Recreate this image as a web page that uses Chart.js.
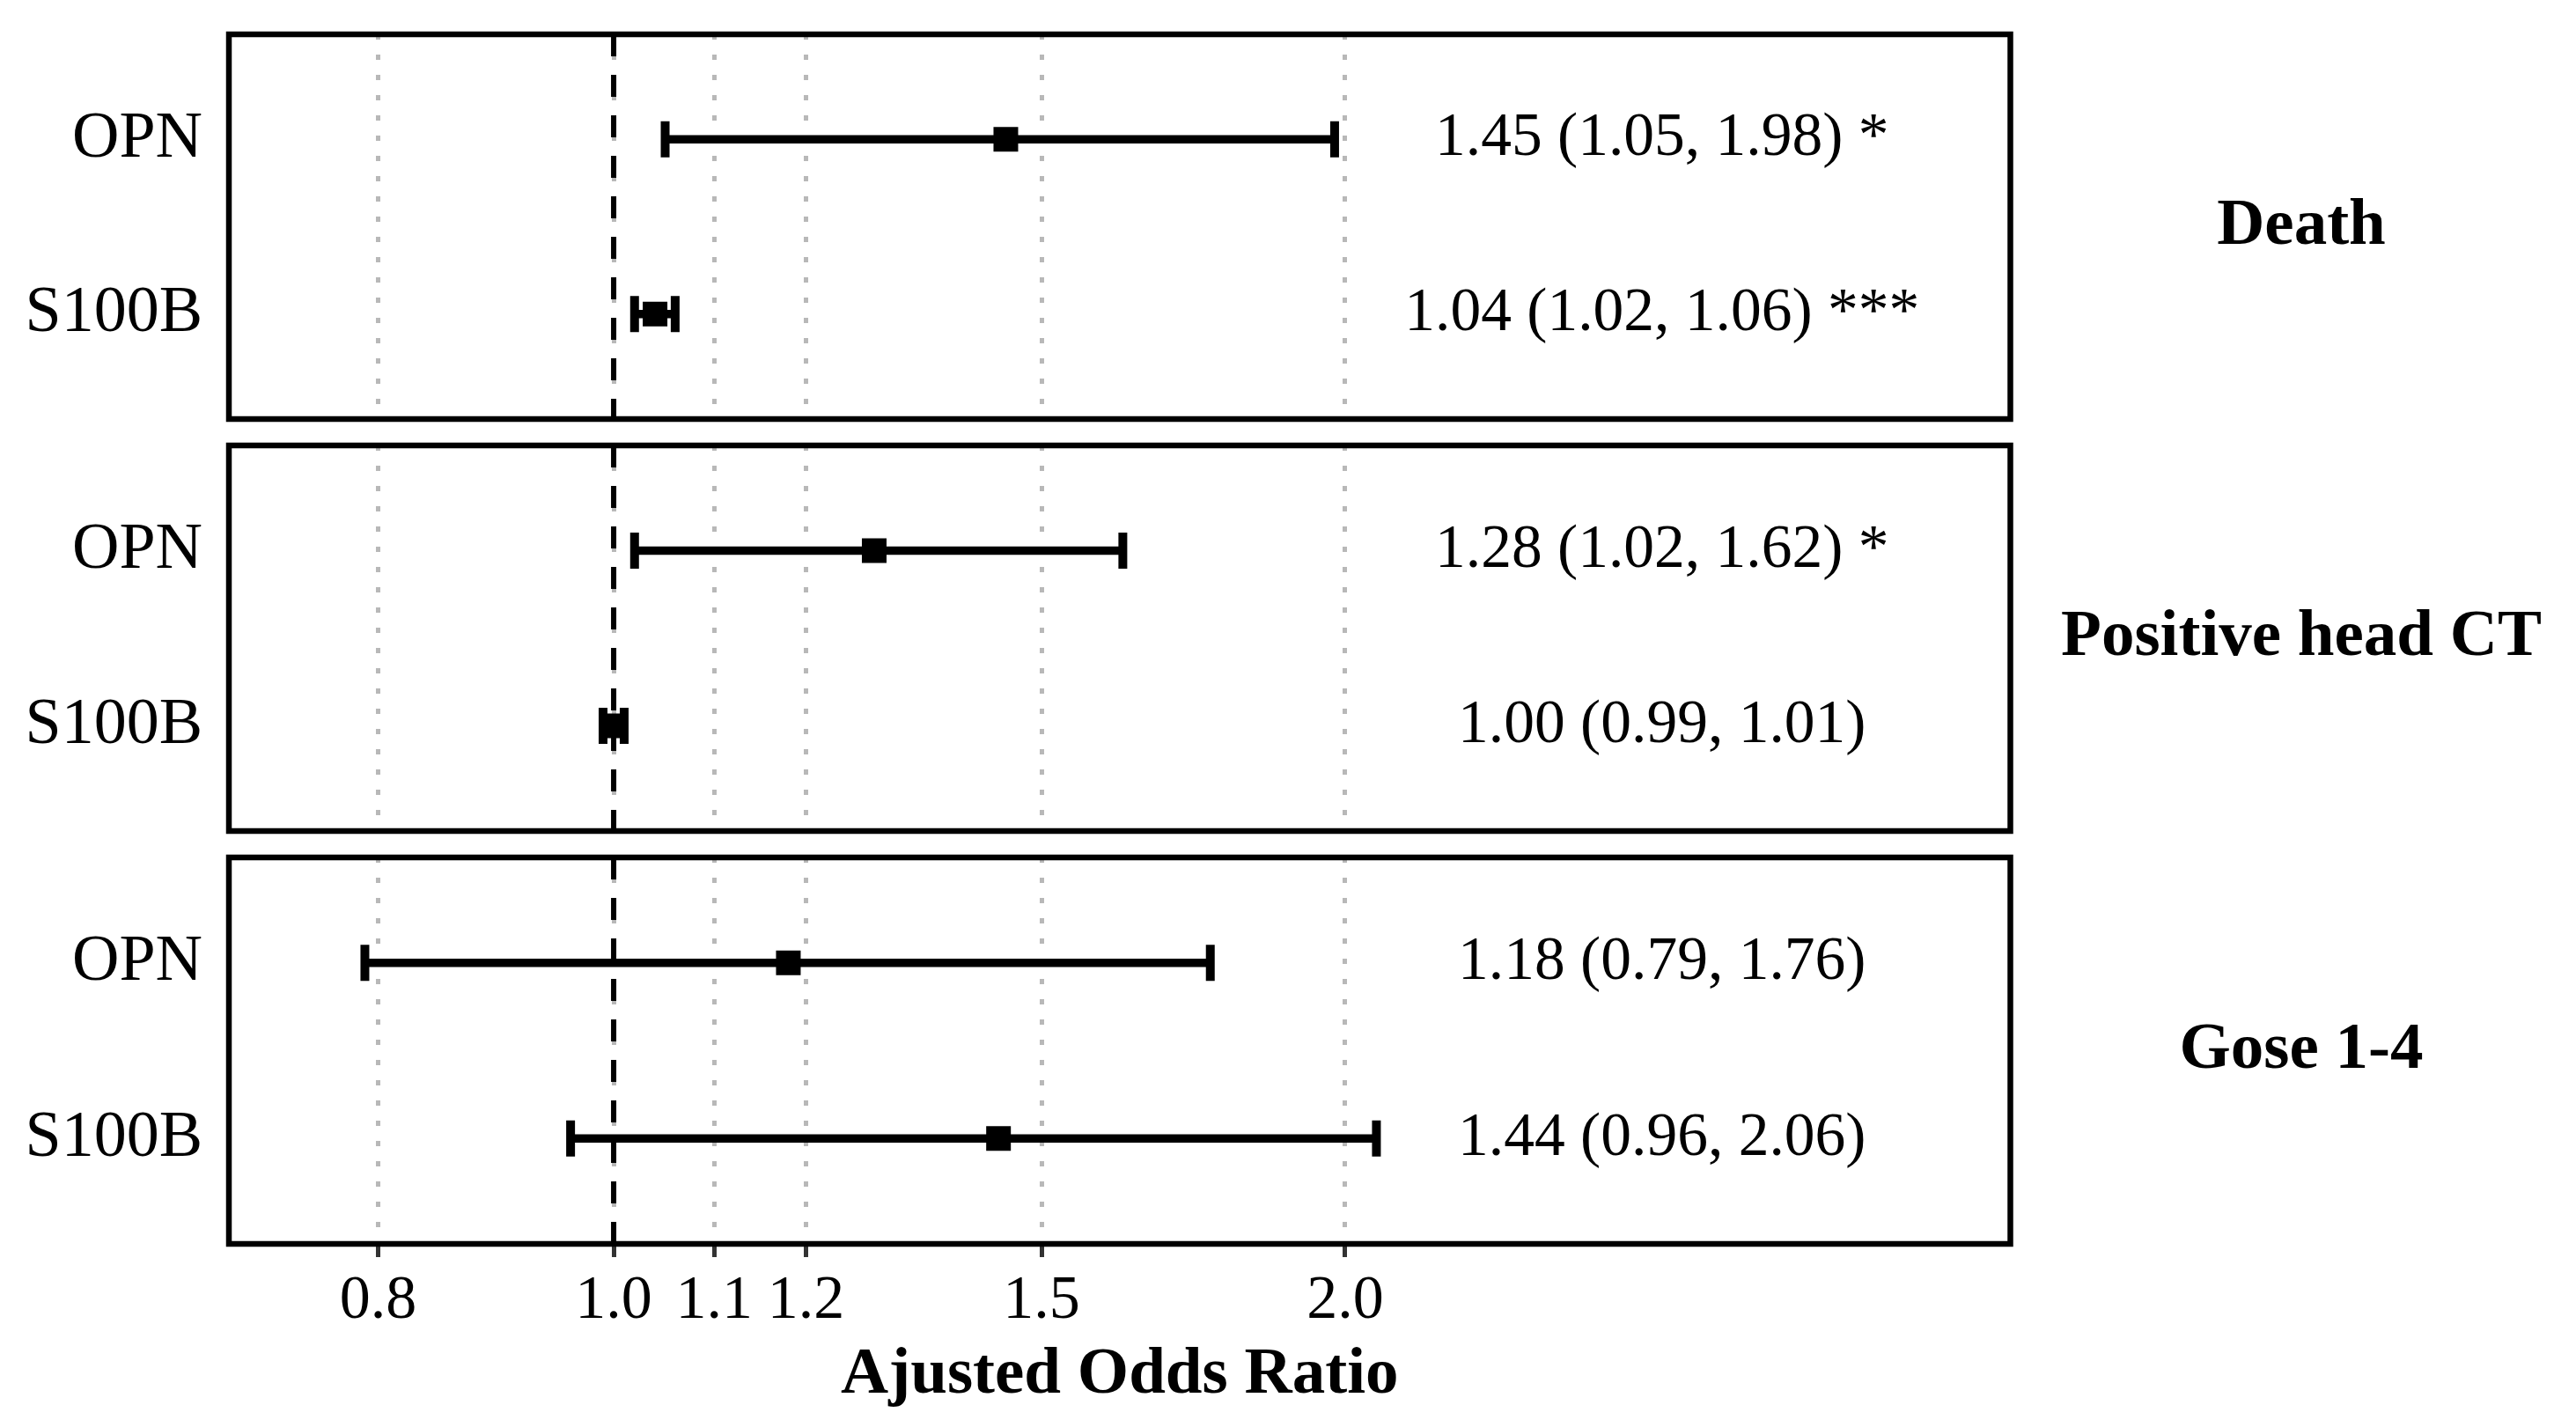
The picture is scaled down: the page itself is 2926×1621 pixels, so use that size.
<!DOCTYPE html>
<html lang="en">
<head>
    <meta charset="UTF-8">
    <title>Ajusted Odds Ratio</title>
    <script src="https://cdn.jsdelivr.net/npm/chart.js@4.4.1/dist/chart.umd.min.js"></script>
    <style>
        body {
            margin: 0;
            padding: 0;
            background: #fff;
        }
        .wrap {
            position: relative;
            width: 2926px;
            height: 1621px;
        }
        .wrap canvas {
            position: absolute;
            left: 0;
            top: 0;
        }
    </style>
</head>
<body>
    <div class="wrap">
        <canvas id="panel0" width="2926" height="1621"></canvas>
        <canvas id="panel1" width="2926" height="1621"></canvas>
        <canvas id="panel2" width="2926" height="1621"></canvas>
    </div>

    <script>
        // data
        const OUTCOMES = ['Death', 'Positive head CT', 'Gose 1-4'];
        const MARKERS = ['OPN', 'S100B'];

        const OR_OPN = [1.45, 1.28, 1.18];
        const LO_OPN = [1.05, 1.02, 0.79];
        const HI_OPN = [1.98, 1.62, 1.76];
        const SIG_OPN = ['*', '*', ''];

        const OR_S100B = [1.04, 1.00, 1.44];
        const LO_S100B = [1.02, 0.99, 0.96];
        const HI_S100B = [1.06, 1.01, 2.06];
        const SIG_S100B = ['***', '', ''];

        const X_TICKS = [0.8, 1.0, 1.1, 1.2, 1.5, 2.0];
        const REF_OR = 1;
        const LABEL_X = 2.7;   // where the "OR (CI)" text sits on the x scale

        // layout (pixels)
        const W = 2926, H = 1621;
        const X_MIN = 0.6945, X_MAX = 3.756;
        const Y_MIN = 0.4, Y_MAX = 2.6;
        const PANEL_LEFT = 260, PANEL_RIGHT = 2283.5;
        const PANEL_TOP = [39, 506, 974];
        const PANEL_BOTTOM = [476, 944, 1413];
        const STRIP_X = 2614;
        const FONT = "'Liberation Serif', 'Times New Roman', serif";

        Chart.defaults.font.family = FONT;
        Chart.defaults.color = '#000';

        function fmt(v) { return v.toFixed(2); }

        const panelDecor = {
            id: 'panelDecor',
            afterDraw(chart, args, opts) {
                const ctx = chart.ctx;
                const area = chart.chartArea;
                const xs = chart.scales.x, ys = chart.scales.y;
                const i = opts.panel;
                ctx.save();
                ctx.fillStyle = '#000';
                ctx.textBaseline = 'middle';
                // OR (CI) text
                ctx.font = '69.5px ' + FONT;
                ctx.textAlign = 'center';
                const rows = [
                    [OR_OPN[i], LO_OPN[i], HI_OPN[i], SIG_OPN[i]],
                    [OR_S100B[i], LO_S100B[i], HI_S100B[i], SIG_S100B[i]]
                ];
                rows.forEach((r, k) => {
                    let txt = fmt(r[0]) + ' (' + fmt(r[1]) + ', ' + fmt(r[2]) + ')';
                    if (r[3]) txt += ' ' + r[3];
                    ctx.fillText(txt, xs.getPixelForValue(LABEL_X), ys.getPixelForValue(k + 1));
                });
                // strip label on the right
                ctx.font = 'bold 75px ' + FONT;
                ctx.fillText(OUTCOMES[i], STRIP_X, (area.top + area.bottom) / 2);
                // panel border
                ctx.strokeStyle = '#000';
                ctx.lineWidth = 6.5;
                ctx.strokeRect(area.left, area.top, area.right - area.left, area.bottom - area.top);
                ctx.restore();
            }
        };

        function makePanel(i) {
            const last = i === OUTCOMES.length - 1;
            const ctx = document.getElementById('panel' + i).getContext('2d');

            const ciSet = (lo, hi, row) => ({
                data: [{ x: lo, y: row }, { x: hi, y: row }],
                showLine: true,
                borderColor: '#000',
                borderWidth: 9.5,
                pointStyle: 'line',
                pointRotation: 90,
                pointRadius: 20.5,
                pointBorderWidth: 10,
                pointBorderColor: '#000',
                order: 1
            });

            return new Chart(ctx, {
                type: 'scatter',
                data: {
                    datasets: [
                        {
                            // reference line at OR = 1
                            data: [{ x: REF_OR, y: Y_MIN }, { x: REF_OR, y: Y_MAX }],
                            showLine: true,
                            borderColor: '#000',
                            borderWidth: 6,
                            borderDash: [25, 21],
                            pointRadius: 0,
                            order: 2
                        },
                        ciSet(LO_OPN[i], HI_OPN[i], 1),
                        ciSet(LO_S100B[i], HI_S100B[i], 2),
                        {
                            data: [{ x: OR_OPN[i], y: 1 }, { x: OR_S100B[i], y: 2 }],
                            pointStyle: 'rect',
                            pointRadius: 19.8,
                            pointBorderWidth: 0,
                            backgroundColor: '#000',
                            order: 0
                        }
                    ]
                },
                options: {
                    responsive: false,
                    animation: false,
                    devicePixelRatio: 1,
                    events: [],
                    layout: {
                        padding: {
                            left: 0,
                            right: W - PANEL_RIGHT,
                            top: PANEL_TOP[i],
                            bottom: last ? 0 : H - PANEL_BOTTOM[i]
                        }
                    },
                    plugins: {
                        legend: { display: false },
                        tooltip: { enabled: false },
                        panelDecor: { panel: i }
                    },
                    scales: {
                        x: {
                            type: 'logarithmic',
                            position: 'bottom',
                            min: X_MIN,
                            max: X_MAX,
                            bounds: 'data',
                            afterBuildTicks: (s) => {
                                s.ticks = X_TICKS.map(v => ({ value: v }));
                                s.min = X_MIN;
                                s.max = X_MAX;
                            },
                            afterFit: (s) => {
                                s.height = last ? H - PANEL_BOTTOM[i] : 0;
                                s.paddingLeft = 0;
                                s.paddingRight = 0;
                            },
                            grid: {
                                color: '#b8b8b8',
                                lineWidth: 5,
                                drawTicks: last,
                                tickLength: 15,
                                tickColor: '#333',
                                tickWidth: 5
                            },
                            border: { display: false, dash: [6, 17] },
                            ticks: {
                                display: last,
                                autoSkip: false,
                                maxRotation: 0,
                                padding: 16,
                                color: '#000',
                                font: { size: 70, lineHeight: 1 },
                                callback: (v) => Number(v).toFixed(1)
                            },
                            title: {
                                display: last,
                                text: 'Ajusted Odds Ratio',
                                color: '#000',
                                font: { size: 75, weight: 'bold', lineHeight: 1.2 },
                                padding: { top: 0, bottom: 13 }
                            }
                        },
                        y: {
                            type: 'linear',
                            reverse: true,
                            min: Y_MIN,
                            max: Y_MAX,
                            bounds: 'data',
                            afterBuildTicks: (s) => {
                                s.ticks = MARKERS.map((m, k) => ({ value: k + 1 }));
                                s.min = Y_MIN;
                                s.max = Y_MAX;
                            },
                            afterFit: (s) => {
                                s.width = PANEL_LEFT;
                                s.paddingTop = 0;
                                s.paddingBottom = 0;
                            },
                            grid: { display: false, drawTicks: false },
                            border: { display: false },
                            ticks: {
                                padding: 30,
                                color: '#000',
                                font: { size: 74 },
                                callback: (v) => MARKERS[Math.round(v) - 1]
                            }
                        }
                    }
                },
                plugins: [panelDecor]
            });
        }

        OUTCOMES.forEach((o, i) => makePanel(i));
    </script>
</body>
</html>
